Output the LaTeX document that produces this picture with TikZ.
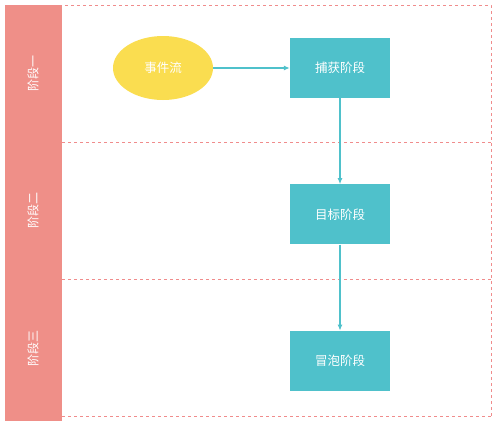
\documentclass[tikz,border=0pt]{standalone}
\usepackage{fontspec}
\setmainfont{Noto Sans CJK SC}
\usetikzlibrary{arrows.meta,positioning,shapes.geometric}
\definecolor{lanepink}{RGB}{239,143,136}
\definecolor{linepink}{RGB}{240,140,140}
\definecolor{stageteal}{RGB}{79,193,203}
\definecolor{eventyellow}{RGB}{250,221,80}
\tikzset{
  stagebox/.style={
    fill=stageteal,text=white,minimum width=100pt,minimum height=60pt,
    inner sep=0pt,font=\fontsize{12.5}{14}\selectfont
  },
  eventnode/.style={
    ellipse,fill=eventyellow,text=white,minimum width=100pt,minimum height=64pt,
    inner sep=0pt,font=\fontsize{12.5}{14}\selectfont
  },
  lanelabel/.style={rotate=90,text=white,font=\fontsize{12}{14}\selectfont},
  laneline/.style={draw=linepink,dashed,dash pattern=on 3pt off 3pt},
  flowarrow/.style={-{Latex[length=6pt,width=5pt]},draw=stageteal,line width=1.1pt}
}
\begin{document}
\begin{tikzpicture}[x=1pt,y=-1pt,node distance=86pt]
  \useasboundingbox (0,0) rectangle (498,421);
  % lanes
  \fill[lanepink] (5,5) rectangle (62,421);
  \draw[laneline] (5,5) -- (491,5) -- (491,416);
  \draw[laneline] (62,142) -- (491,142);
  \draw[laneline] (62,279) -- (491,279);
  \draw[laneline] (62,416) -- (491,416);
  \node[lanelabel] (lane1) at (33,73) {阶段一};
  \node[lanelabel] (lane2) at (33,210) {阶段二};
  \node[lanelabel] (lane3) at (33,348) {阶段三};
  % stages
  \node[eventnode] (events) at (163,68) {事件流};
  \node[stagebox] (capture) at (340,68) {捕获阶段};
  \node[stagebox,below=of capture] (target) {目标阶段};
  \node[stagebox,below=of target] (bubble) {冒泡阶段};
  \draw[flowarrow] (events) -- (capture);
  \draw[flowarrow] (capture) -- (target);
  \draw[flowarrow] (target) -- (bubble);
\end{tikzpicture}
\end{document}
